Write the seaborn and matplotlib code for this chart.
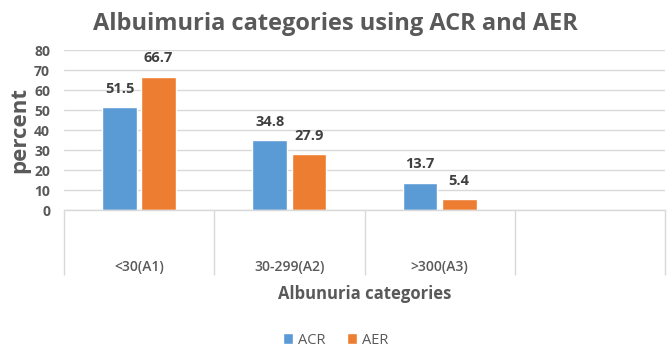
import matplotlib
matplotlib.use("Agg")
import matplotlib.pyplot as plt
import matplotlib.transforms as mtransforms
import numpy as np
import pandas as pd
import seaborn as sns

categories = ["<30(A1)", "30-299(A2)", ">300(A3)", ""]
acr = [51.5, 34.8, 13.7, np.nan]
aer = [66.7, 27.9, 5.4, np.nan]
series = ["ACR", "AER"]
colors = ["#5B9BD5", "#ED7D31"]
text_color = "#595959"

sns.set_theme(style="white")
plt.rcParams["font.family"] = ["Open Sans", "DejaVu Sans"]

df = pd.DataFrame({
    "category": categories * 2,
    "series": [series[0]] * len(categories) + [series[1]] * len(categories),
    "value": acr + aer,
})

fig = plt.figure(figsize=(6.71, 3.52), dpi=100)
ax = fig.add_axes([64 / 671, 1 - 210 / 352, (665 - 64) / 671, 160 / 352])

sns.barplot(data=df, x="category", y="value", hue="series", order=categories,
            hue_order=series, palette=colors, width=0.52, gap=0.11,
            saturation=1, ax=ax, legend=True)

for cont in ax.containers:
    ax.bar_label(cont, fmt="%.1f", padding=8, fontsize=10.5, fontweight="bold",
                 color="#404040")

ax.set_ylim(0, 80)
ax.set_xlim(-0.5, len(categories) - 0.5)
ax.set_yticks(range(0, 81, 10))
ax.grid(axis="y", color="#D9D9D9", lw=1)
ax.set_axisbelow(True)
for s in ["top", "right", "left"]:
    ax.spines[s].set_visible(False)
ax.spines["bottom"].set_color("#D9D9D9")
ax.spines["bottom"].set_linewidth(1)

ax.tick_params(axis="y", length=0, pad=10, labelsize=10, labelcolor=text_color)
for lab in ax.get_yticklabels():
    lab.set_fontweight("bold")
ax.tick_params(axis="x", length=0, pad=36, labelsize=10, labelcolor=text_color)
for lab in ax.get_xticklabels():
    lab.set_fontweight("semibold")

# category table lines under the axis
trans = mtransforms.blended_transform_factory(ax.transData, ax.transAxes)
ax.vlines(np.arange(-0.5, len(categories), 1.0), -65 / 160, 0, transform=trans,
          color="#D9D9D9", lw=1, clip_on=False)

ax.set_xlabel("Albunuria categories", fontsize=12, fontweight="bold",
              color=text_color, labelpad=8)
ax.set_ylabel("percent", fontsize=16, fontweight="bold", color=text_color,
              labelpad=3)

fig.suptitle("Albuimuria categories using ACR and AER", x=0.5, y=0.965,
             fontsize=17, fontweight="bold", color=text_color)

ax.legend(loc="center", bbox_to_anchor=(0.5, 12 / 352), bbox_transform=fig.transFigure,
          ncol=2, frameon=False, fontsize=10.5, labelcolor=text_color,
          handlelength=0.7, handleheight=0.7, handletextpad=0.3, columnspacing=1.5)

fig.savefig("out.png", dpi=100)
